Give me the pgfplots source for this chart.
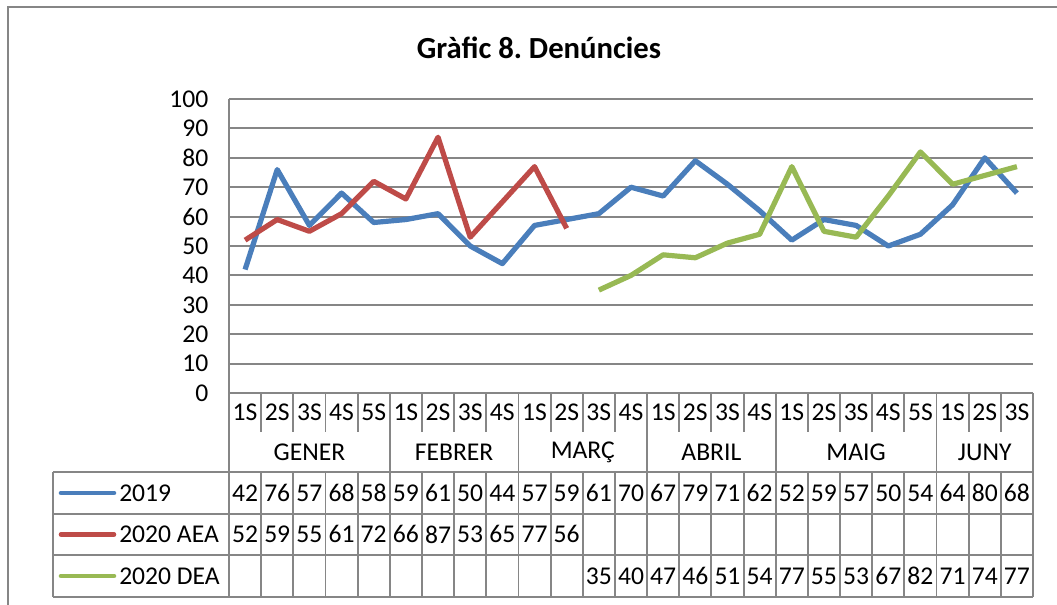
\documentclass[border=0pt]{standalone}
\usepackage{pgfplots}
\pgfplotsset{compat=1.18}
\usepackage{pgfplotstable}
\usepackage{fontspec}
\setmainfont{Carlito}
\frenchspacing
\definecolor{cA}{HTML}{4A7EBB}
\definecolor{cB}{HTML}{BE4B48}
\definecolor{cC}{HTML}{98B954}
\definecolor{gridc}{HTML}{868686}
\newcommand\tf{\fontsize{19.2}{22}\selectfont}

\pgfplotstableread{
x y
0 42
1 76
2 57
3 68
4 58
5 59
6 61
7 50
8 44
9 57
10 59
11 61
12 70
13 67
14 79
15 71
16 62
17 52
18 59
19 57
20 50
21 54
22 64
23 80
24 68
}\tA

\pgfplotstableread{
x y
0 52
1 59
2 55
3 61
4 72
5 66
6 87
7 53
8 65
9 77
10 56
}\tB

\pgfplotstableread{
x y
11 35
12 40
13 47
14 46
15 51
16 54
17 77
18 55
19 53
20 67
21 82
22 71
23 74
24 77
}\tC

\begin{document}
\begin{tikzpicture}[x=0.75pt,y=0.75pt]
\useasboundingbox (0,0) rectangle (1057,-604);
\draw[gridc, line width=1.4pt] (8,-620) -- (8,-7) -- (1070,-7);
\node[font=\fontsize{23}{27}\selectfont\bfseries] at (539,-48) {Gràfic 8. Denúncies};

\begin{axis}[
  at={(171.75pt,-294.75pt)}, anchor=south west,
  scale only axis, width=603pt, height=220.5pt,
  xmin=-0.5, xmax=24.5, ymin=0, ymax=100,
  ytick={0,10,...,100},
  xtick={0,...,24},
  xticklabels={1S,2S,3S,4S,5S,1S,2S,3S,4S,1S,2S,3S,4S,1S,2S,3S,4S,1S,2S,3S,4S,5S,1S,2S,3S},
  xticklabel style={anchor=center, yshift=-14.5pt},
  yticklabel style={xshift=-12pt},
  major tick length=0pt,
  axis x line*=bottom, axis y line*=left,
  axis line style={-, gridc, line width=1.4pt},
  ymajorgrids, grid style={gridc, line width=1.4pt},
  tick label style={font=\tf},
  /pgf/number format/assume math mode=true,
  clip=false,
  font=\tf,
]
\addplot[cA, line width=3.9pt, line join=round] table[x=x,y=y]{\tA};
\addplot[cB, line width=3.9pt, line join=round] table[x=x,y=y]{\tB};
\addplot[cC, line width=3.9pt, line join=round] table[x=x,y=y]{\tC};

\addplot[draw=none, mark=none, nodes near coords, point meta=explicit symbolic,
  every node near coord/.append style={anchor=center, font=\tf, inner sep=0pt}]
  table[x=x, y expr=-34.0, meta=y]{\tA};
\addplot[draw=none, mark=none, nodes near coords, point meta=explicit symbolic,
  every node near coord/.append style={anchor=center, font=\tf, inner sep=0pt}]
  table[x=x, y expr=-48.1, meta=y]{\tB};
\addplot[draw=none, mark=none, nodes near coords, point meta=explicit symbolic,
  every node near coord/.append style={anchor=center, font=\tf, inner sep=0pt}]
  table[x=x, y expr=-62.2, meta=y]{\tC};

\node[font=\tf] at (axis cs:2,-20.1) {GENER};
\node[font=\tf] at (axis cs:6.5,-20.1) {FEBRER};
\node[font=\tf] at (axis cs:10.5,-20.1) {MARÇ};
\node[font=\tf] at (axis cs:14.5,-20.1) {ABRIL};
\node[font=\tf] at (axis cs:19,-20.1) {MAIG};
\node[font=\tf] at (axis cs:23,-20.1) {JUNY};
\end{axis}

% table grid
\begin{scope}[gridc, line width=1.4pt]
\foreach \k in {1,...,24} {
  \draw (229+32.16*\k,-393) -- (229+32.16*\k,-432);
  \draw (229+32.16*\k,-472) -- (229+32.16*\k,-597);
}
\foreach \k in {5,9,13,17,22} {
  \draw (229+32.16*\k,-432) -- (229+32.16*\k,-472);
}
\draw (229,-393) -- (229,-597);
\draw (1033,-393) -- (1033,-597);
\draw (53,-472) -- (53,-597);
\foreach \yy in {472,514,555,597} {
  \draw (53,-\yy) -- (1033,-\yy);
}
\end{scope}

% legend keys
\draw[cA, line width=3.4pt, line cap=round] (61,-493) -- (114,-493);
\draw[cB, line width=3.4pt, line cap=round] (61,-534.5) -- (114,-534.5);
\draw[cC, line width=3.4pt, line cap=round] (61,-576) -- (114,-576);
\node[font=\tf, anchor=west, inner sep=0pt] at (119,-493) {2019};
\node[font=\tf, anchor=west, inner sep=0pt] at (119,-534.5) {2020 AEA};
\node[font=\tf, anchor=west, inner sep=0pt] at (119,-576) {2020 DEA};
\end{tikzpicture}
\end{document}
